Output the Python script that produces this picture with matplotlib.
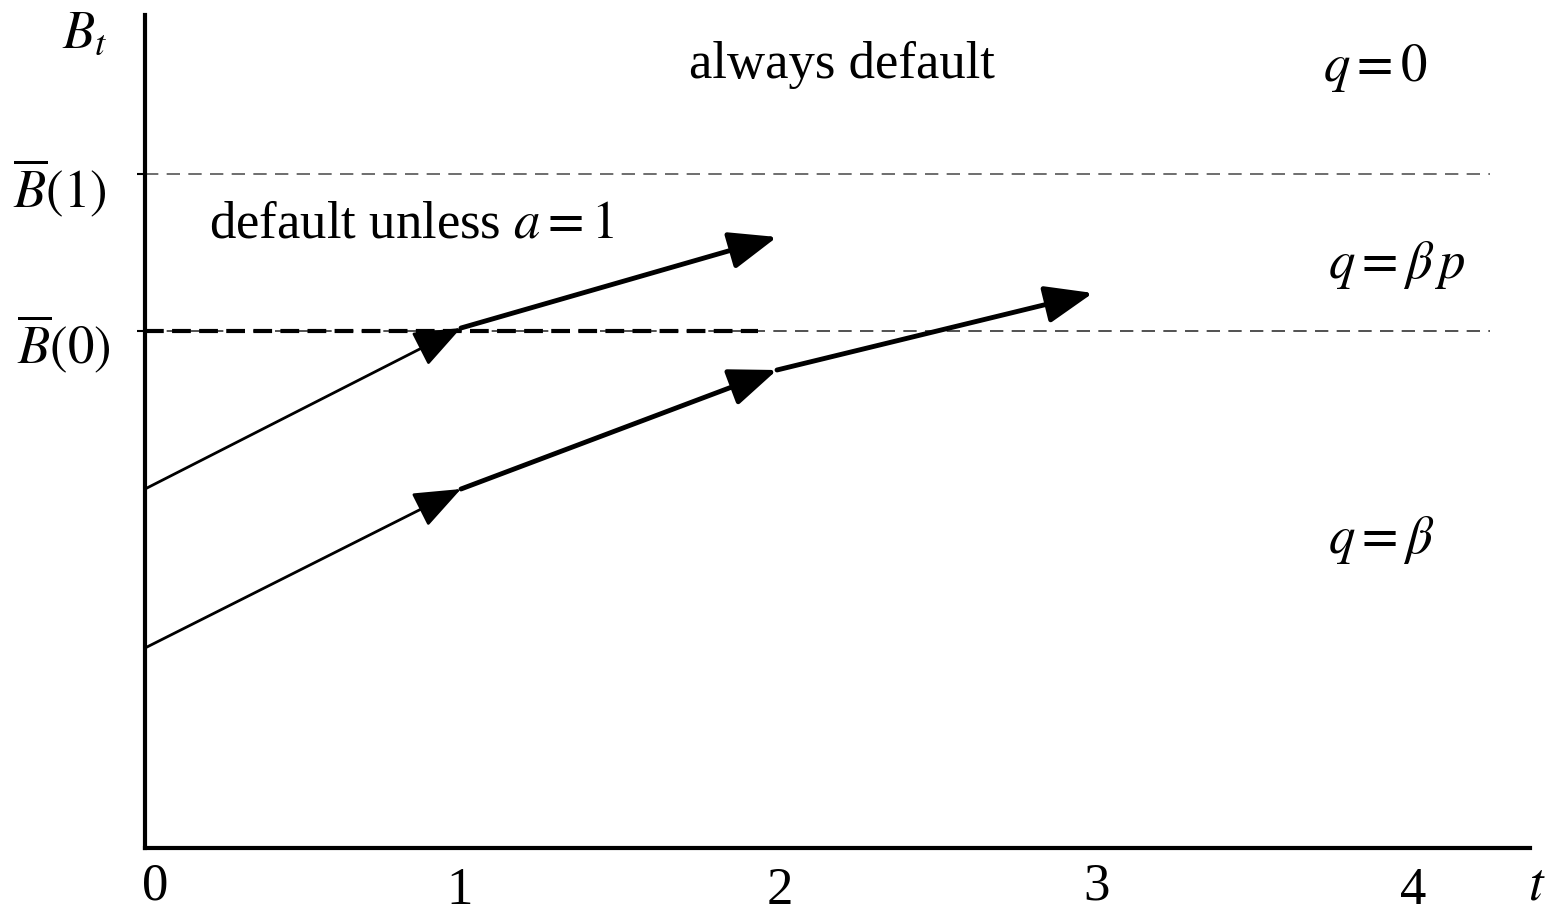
import matplotlib
matplotlib.use("Agg")
import matplotlib.pyplot as plt

plt.rcParams['font.family'] = ['Liberation Serif', 'DejaVu Serif']
plt.rcParams['mathtext.fontset'] = 'stix'

# data (t in periods, B in arbitrary units)
t_ticks = [0, 1, 2, 3, 4]
b_bar0 = 5.17   # threshold B(0)
b_bar1 = 6.74   # threshold B(1)
upper_t = [0, 1, 2]
upper_b = [3.59, 5.20, 6.11]
lower_t = [0, 1, 2, 3]
lower_b = [2.00, 3.59, 4.78, 5.55]

W, H = 1555, 919
fig = plt.figure(figsize=(W / 100, H / 100), dpi=100)
ax = fig.add_axes([145 / W, (H - 848) / H, 1385 / W, 833 / H])
ax.set_xlim(0, 1385 / 316)
ax.set_ylim(0, 8.33)
for s in ['top', 'right']:
    ax.spines[s].set_visible(False)
for s in ['left', 'bottom']:
    ax.spines[s].set_linewidth(3)
    ax.spines[s].set_zorder(5)
ax.set_xticks([])
ax.set_yticks([b_bar0, b_bar1])
ax.set_yticklabels([])
ax.tick_params(axis='y', length=6, width=1.5, direction='out')


def px(x, y):
    # pixel position -> figure fraction
    return x / W, 1 - y / H


# thresholds
xmax = 1345 / 316
ax.plot([0, xmax], [b_bar1, b_bar1], color='#555555', lw=1.2, ls=(0, (8, 5)))
ax.plot([0, xmax], [b_bar0, b_bar0], color='#333333', lw=1.2, ls=(0, (8, 5)))
ax.plot([0, 1.94], [b_bar0, b_bar0], color='black', lw=3, ls=(0, (4.5, 2)))


def seg(t0, b0, t1, b1, lw):
    ax.annotate('', xy=(t1, b1), xytext=(t0, b0),
                arrowprops=dict(arrowstyle='-|>,head_length=1.4,head_width=0.55',
                                mutation_scale=21, lw=lw, color='black',
                                shrinkA=0, shrinkB=0))


for path_t, path_b in [(upper_t, upper_b), (lower_t, lower_b)]:
    for i in range(len(path_t) - 1):
        seg(path_t[i], path_b[i], path_t[i + 1], path_b[i + 1], 2 if i == 0 else 3.5)

fs = 38
fig.text(*px(85, 35), '$B_t$', fontsize=fs, ha='center', va='center')
fig.text(*px(60, 188), r'$\overline{B}(1)$', fontsize=fs, ha='center', va='center')
fig.text(*px(64, 344), r'$\overline{B}(0)$', fontsize=fs, ha='center', va='center')
fig.text(*px(842, 65), 'always default', fontsize=fs, ha='center', va='center')
fig.text(*px(1375, 68), '$q = 0$', fontsize=fs, ha='center', va='center')
fig.text(*px(412, 225), 'default unless $a = 1$', fontsize=fs, ha='center', va='center')
fig.text(*px(1397, 265), r'$q = \beta\, p$', fontsize=fs, ha='center', va='center')
fig.text(*px(1381, 540), r'$q = \beta$', fontsize=fs, ha='center', va='center')

# tick labels sit at slightly different heights in the original
tick_px = [(155, 900), (460, 904), (780, 904), (1097, 900), (1413, 904)]
for lab, (x, y) in zip(t_ticks, tick_px):
    fig.text(*px(x, y), str(lab), fontsize=38, ha='center', va='baseline')
fig.text(*px(1537, 900), '$t$', fontsize=38, ha='center', va='baseline')

fig.savefig('out.png', dpi=100)
